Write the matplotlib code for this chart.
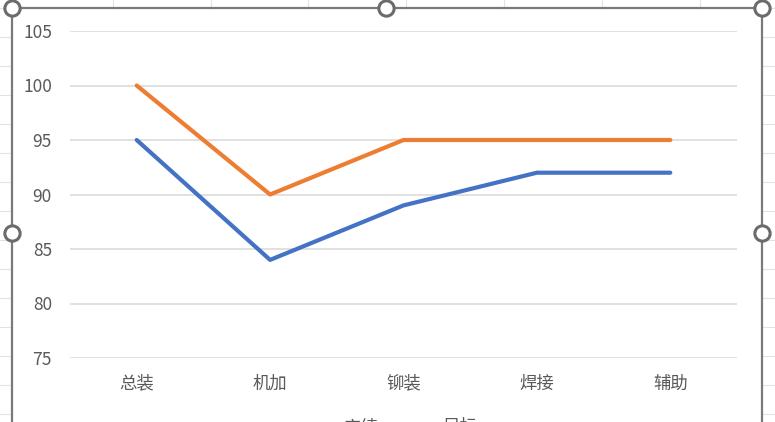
import matplotlib
matplotlib.use("Agg")
import matplotlib.pyplot as plt
from matplotlib.lines import Line2D

plt.rcParams['font.family'] = ['Noto Sans CJK SC', 'DejaVu Sans']

categories = ['总装', '机加', '铆装', '焊接', '辅助']
actual = [95, 84, 89, 92, 92]
target = [100, 90, 95, 95, 95]
series_names = ['实绩', '目标']
yticks = [75, 80, 85, 90, 95, 100, 105]

W, H = 775, 422
fig = plt.figure(figsize=(W / 100, H / 100), dpi=100)
fig.patch.set_facecolor('white')

def fx(px):
    return px / W

def fy(py):
    return 1 - py / H

# spreadsheet background grid
sheet_col = '#e3e3e3'
for xx in [113, 211, 308, 406, 504, 602, 700]:
    fig.add_artist(Line2D([fx(xx), fx(xx)], [fy(0), fy(8)], color=sheet_col, lw=0.8, zorder=0))
for yy in [8 + 29 * i for i in range(15)]:
    fig.add_artist(Line2D([fx(0), fx(12)], [fy(yy), fy(yy)], color=sheet_col, lw=0.8, zorder=0))
    fig.add_artist(Line2D([fx(762), fx(775)], [fy(yy), fy(yy)], color=sheet_col, lw=0.8, zorder=0))

frame_col = '#7a7a7a'
fig.add_artist(Line2D([fx(12), fx(762)], [fy(8), fy(8)], color=frame_col, lw=1.6, zorder=1))
fig.add_artist(Line2D([fx(12), fx(12)], [fy(8), fy(430)], color=frame_col, lw=1.6, zorder=1))
fig.add_artist(Line2D([fx(762), fx(762)], [fy(8), fy(430)], color=frame_col, lw=1.6, zorder=1))

ax = fig.add_axes([fx(70), fy(358), fx(737) - fx(70), fy(31) - fy(358)])
ax.set_zorder(2)
ax.set_facecolor('none')
x = list(range(len(categories)))
ax.plot(x, actual, color='#4472C4', lw=3.0, solid_capstyle='round', solid_joinstyle='round', label=series_names[0], zorder=3)
ax.plot(x, target, color='#ED7D31', lw=3.0, solid_capstyle='round', solid_joinstyle='round', label=series_names[1], zorder=3)
ax.set_xlim(-0.5, len(categories) - 0.5)
ax.set_ylim(75, 105)
ax.set_yticks(yticks)
ax.set_xticks(x)
ax.set_xticklabels(categories)
ax.yaxis.grid(True, color='#d9d9d9', lw=1.1)
ax.set_axisbelow(True)
for s in ax.spines.values():
    s.set_visible(False)
ax.tick_params(axis='both', length=0, colors='#595959', labelsize=12.5)
ax.tick_params(axis='y', pad=13)
ax.tick_params(axis='x', pad=12)

leg = fig.legend(loc='center', bbox_to_anchor=(fx(386), fy(427)), ncol=2, frameon=False,
                 fontsize=12.5, labelcolor='#595959', handlelength=2.2, columnspacing=0.9,
                 handletextpad=0.6)
leg.set_zorder(3)

# selection handles
for (hx, hy) in [(12, 8), (386, 8), (762, 8), (12, 233), (762, 233)]:
    fig.add_artist(Line2D([fx(hx)], [fy(hy)], marker='o', markersize=11, markerfacecolor='white',
                          markeredgecolor='#6b6b6b', markeredgewidth=2.2, zorder=10))

fig.savefig('out.png', dpi=100)
